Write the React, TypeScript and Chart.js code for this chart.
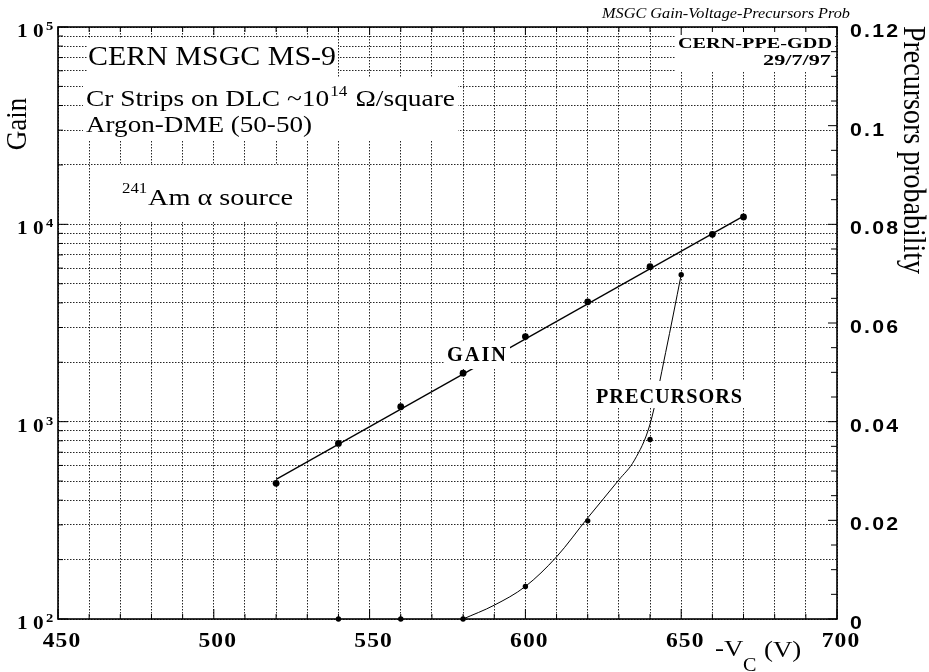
import React, { useEffect, useRef } from "react";
import { Chart, registerables } from "chart.js";
Chart.register(...registerables);

// ---- data ----
const gainVoltage = [520, 540, 560, 580, 600, 620, 640, 660, 670];
const gainValues = [487, 776, 1190, 1760, 2700, 4050, 6100, 8900, 10900];
const gainFitVoltage = [520, 670];
const gainFitValues = [510, 11000];
const precVoltage = [540, 560, 580, 600, 620, 640, 650];
const precValues = [0, 0, 0, 0.0066, 0.0199, 0.0364, 0.0698];
const precCurveVoltage = [580, 590, 600, 610, 620, 630, 635, 640, 645, 650];
const precCurveValues = [0, 0.0028, 0.0066, 0.0126, 0.0205, 0.0282, 0.0322, 0.0395, 0.054, 0.0698];
const xTickLabels = ["450", "500", "550", "600", "650", "700"];
const xTickValues = [450, 500, 550, 600, 650, 700];
const gainDecadeExps = ["2", "3", "4", "5"];
const gainDecadeValues = [100, 1000, 10000, 100000];
const precTickLabels = ["0", "0.02", "0.04", "0.06", "0.08", "0.1", "0.12"];
const precTickValues = [0, 0.02, 0.04, 0.06, 0.08, 0.1, 0.12];

const SERIF = "'Liberation Serif', 'Times New Roman', serif";
const SANS = "'Liberation Sans', Arial, sans-serif";
const SX = 1.12;

function txt(ctx: CanvasRenderingContext2D, s: string, x: number, y: number, font: string,
  align: CanvasTextAlign = "left", w?: number, ls = 0, fixedSx?: number): number {
  ctx.save();
  ctx.font = font;
  (ctx as any).letterSpacing = ls + "px";
  const m = ctx.measureText(s).width;
  const sx = fixedSx ?? (w ? w / m : SX);
  ctx.translate(x, y);
  ctx.scale(sx, 1);
  ctx.textAlign = align;
  ctx.textBaseline = "alphabetic";
  ctx.fillStyle = "#000";
  ctx.fillText(s, 0, 0);
  ctx.restore();
  return m * sx;
}

function measure(ctx: CanvasRenderingContext2D, s: string, font: string): number {
  ctx.save();
  ctx.font = font;
  (ctx as any).letterSpacing = "0px";
  const m = ctx.measureText(s).width;
  ctx.restore();
  return m;
}

function rtxt(ctx: CanvasRenderingContext2D, s: string, cx: number, cy: number, font: string, ang: number) {
  ctx.save();
  ctx.translate(cx, cy);
  ctx.rotate(ang);
  ctx.scale(1, SX);
  ctx.font = font;
  ctx.textAlign = "center";
  ctx.textBaseline = "middle";
  ctx.fillStyle = "#000";
  ctx.fillText(s, 0, 0);
  ctx.restore();
}

const boxes: [number, number, number, number][] = [
  [87, 38, 251, 40],
  [83, 78, 375, 63],
  [92, 165, 205, 57],
  [676, 30, 158, 41],
  [444, 341, 66, 28],
  [591, 381, 156, 27],
];

const decorPlugin = {
  id: "decor",
  afterDatasetsDraw(chart: any) {
    const ctx: CanvasRenderingContext2D = chart.ctx;
    ctx.save();
    ctx.fillStyle = "#fff";
    for (const [x, y, w, h] of boxes) ctx.fillRect(x, y, w, h);
    ctx.restore();
  },
  afterDraw(chart: any) {
    const ctx: CanvasRenderingContext2D = chart.ctx;
    const { left, right, top, bottom } = chart.chartArea;
    const sx = chart.scales.x, sy = chart.scales.y, sy2 = chart.scales.y2;
    ctx.save();
    ctx.strokeStyle = "#000";
    ctx.lineWidth = 1;
    const line = (a: number, b: number, c: number, d: number) => {
      ctx.beginPath(); ctx.moveTo(a, b); ctx.lineTo(c, d); ctx.stroke();
    };
    for (let v = 450; v <= 700; v += 10) {
      const p = sx.getPixelForValue(v);
      const maj = v % 50 === 0;
      line(p, bottom, p, bottom - (maj ? 10 : 5));
      line(p, top, p, top + (maj ? 8 : 5));
    }
    for (const t of sy.ticks) {
      const p = sy.getPixelForValue(t.value);
      const maj = gainDecadeValues.includes(t.value);
      line(left, p, left + (maj ? 10 : 5), p);
    }
    for (let i = 0; i <= 24; i++) {
      const p = sy2.getPixelForValue(i * 0.005);
      line(right, p, right - (i % 4 === 0 ? 9 : 6), p);
    }
    ctx.lineWidth = 1.6;
    ctx.strokeRect(left, top, right - left, bottom - top);
    ctx.restore();

    // x tick labels
    xTickValues.forEach((v, i) => {
      txt(ctx, xTickLabels[i], sx.getPixelForValue(v) + 4, 647, `bold 21px ${SERIF}`, "center", undefined, 1);
    });
    // left tick labels
    gainDecadeValues.forEach((v, i) => {
      const p = sy.getPixelForValue(v);
      txt(ctx, "1", 17, p + 10, `bold 19px ${SERIF}`, "left");
      txt(ctx, "0", 33, p + 10, `bold 19px ${SERIF}`, "left");
      txt(ctx, gainDecadeExps[i], 46, p + 3, `bold 13px ${SERIF}`, "left");
    });
    // right tick labels
    precTickValues.forEach((v, i) => {
      txt(ctx, precTickLabels[i], 850, sy2.getPixelForValue(v) + 10, `bold 19px ${SANS}`, "left", undefined, 2);
    });

    // axis titles
    rtxt(ctx, "Gain", 18, 124, `27px ${SERIF}`, -Math.PI / 2);
    rtxt(ctx, "Precursors probability", 912, 150, `28px ${SERIF}`, Math.PI / 2);
    txt(ctx, "-V", 715, 656, `24px ${SERIF}`);
    txt(ctx, "C", 743, 671, `18px ${SERIF}`);
    txt(ctx, "(V)", 764, 657, `24px ${SERIF}`);

    // annotations
    txt(ctx, "MSGC Gain-Voltage-Precursors Prob", 602, 18, `italic 14.5px ${SERIF}`, "left", 248);
    txt(ctx, "CERN MSGC MS-9", 88, 65, `28px ${SERIF}`, "left", 248);
    const f24 = `24px ${SERIF}`, f15 = `15px ${SERIF}`;
    const runs = ["Cr Strips on DLC ~10", "14", " \u03A9/square"];
    const nat = measure(ctx, runs[0], f24) + measure(ctx, runs[1], f15) + 2 + measure(ctx, runs[2], f24);
    const k = 369 / nat;
    let xx = 86;
    xx += txt(ctx, runs[0], xx, 106, f24, "left", undefined, 0, k);
    xx += txt(ctx, runs[1], xx + 1, 96, f15, "left", undefined, 0, k) + 2 * k;
    txt(ctx, runs[2], xx, 106, f24, "left", undefined, 0, k);
    txt(ctx, "Argon-DME (50-50)", 86, 132, f24, "left", 226);
    txt(ctx, "241", 122, 193, f15);
    txt(ctx, "Am \u03B1 source", 148, 205, f24, "left", 145);
    txt(ctx, "CERN-PPE-GDD", 832, 48, `bold 15px ${SERIF}`, "right", 154);
    txt(ctx, "29/7/97", 831, 65, `bold 15px ${SERIF}`, "right", 68);
    txt(ctx, "GAIN", 447, 361, `bold 21px ${SERIF}`, "left", 61, 2);
    txt(ctx, "PRECURSORS", 596, 403, `bold 21px ${SERIF}`, "left", 147, 1);
  },
};

const logGrid: number[] = [];
for (let d = 2; d <= 4; d++) for (let m = 1; m <= 9; m++) logGrid.push(m * Math.pow(10, d));
logGrid.push(100000);
const xGrid: number[] = [];
for (let v = 450; v <= 700; v += 10) xGrid.push(v);

export default function App() {
  const ref = useRef<HTMLCanvasElement>(null);
  useEffect(() => {
    if (!ref.current) return;
    const gridColor = "rgba(0,0,0,0.85)";
    const chart = new Chart(ref.current, {
      type: "line",
      data: {
        datasets: [
          {
            label: "Gain fit",
            data: gainFitVoltage.map((x, i) => ({ x, y: gainFitValues[i] })),
            yAxisID: "y",
            borderColor: "#000",
            borderWidth: 1.3,
            pointRadius: 0,
            clip: false as any,
          },
          {
            label: "Gain",
            data: gainVoltage.map((x, i) => ({ x, y: gainValues[i] })),
            yAxisID: "y",
            showLine: false,
            pointRadius: 3.4,
            pointBackgroundColor: "#000",
            pointBorderColor: "#000",
            pointBorderWidth: 0,
            clip: false as any,
          },
          {
            label: "Precursors fit",
            data: precCurveVoltage.map((x, i) => ({ x, y: precCurveValues[i] })),
            yAxisID: "y2",
            borderColor: "#000",
            borderWidth: 1,
            pointRadius: 0,
            cubicInterpolationMode: "monotone",
            clip: false as any,
          },
          {
            label: "Precursors",
            data: precVoltage.map((x, i) => ({ x, y: precValues[i] })),
            yAxisID: "y2",
            showLine: false,
            pointRadius: 2.7,
            pointBackgroundColor: "#000",
            pointBorderColor: "#000",
            pointBorderWidth: 0,
            clip: false as any,
          },
        ],
      },
      options: {
        animation: false,
        responsive: false,
        events: [],
        layout: { padding: { top: 27, left: 0, right: 0, bottom: 0 } },
        plugins: { legend: { display: false }, tooltip: { enabled: false }, title: { display: false } },
        scales: {
          x: {
            type: "linear",
            min: 450,
            max: 700,
            afterBuildTicks: (s: any) => { s.ticks = xGrid.map((v) => ({ value: v })); },
            afterFit: (s: any) => { s.height = 53; },
            ticks: { display: false },
            grid: { color: gridColor, lineWidth: 1, drawTicks: false },
            border: { display: false, dash: [1.5, 1.5] },
          },
          y: {
            type: "logarithmic",
            position: "left",
            min: 100,
            max: 100000,
            afterBuildTicks: (s: any) => { s.ticks = logGrid.map((v) => ({ value: v })); },
            afterFit: (s: any) => { s.width = 58; },
            ticks: { display: false },
            grid: { color: gridColor, lineWidth: 1, drawTicks: false },
            border: { display: false, dash: [1.5, 1.5] },
          },
          y2: {
            type: "linear",
            position: "right",
            min: 0,
            max: 0.12,
            afterFit: (s: any) => { s.width = 92; },
            ticks: { display: false },
            grid: { drawOnChartArea: false, drawTicks: false },
            border: { display: false },
          },
        },
      },
      plugins: [decorPlugin],
    } as any);
    return () => chart.destroy();
  }, []);
  return (
    <div style={{ position: "absolute", left: 0, top: 0, width: 929, height: 672, background: "#fff" }}>
      <canvas ref={ref} width={929} height={672} style={{ display: "block" }} />
    </div>
  );
}
